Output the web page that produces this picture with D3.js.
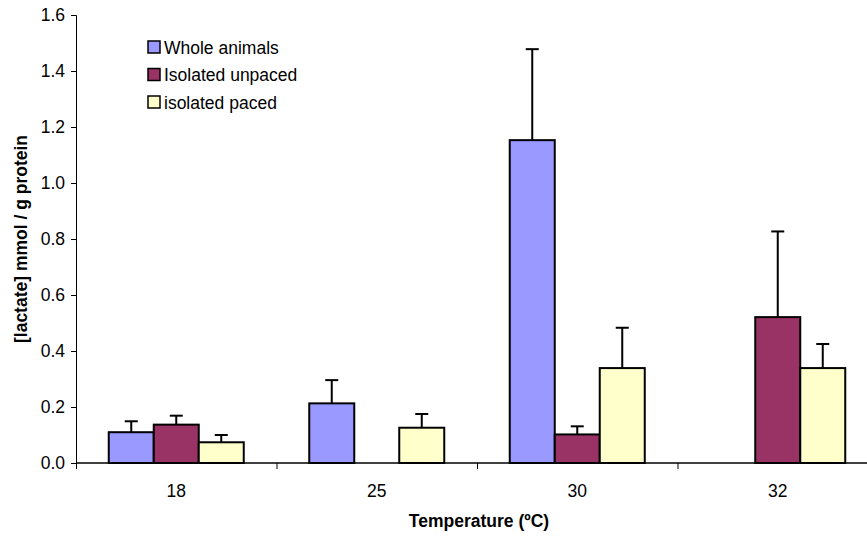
<!DOCTYPE html>
<html>
<head>
<meta charset="utf-8">
<script src="https://cdn.jsdelivr.net/npm/d3@7"></script>
<style>
  body { margin: 0; background: #fff; }
  svg { display: block; font-family: "Liberation Sans", Arial, sans-serif; }
</style>
</head>
<body>
<svg id="chart" width="867" height="537"></svg>
<script>
/************** Data **************/
const temperatures = ["18", "25", "30", "32"];
const seriesNames = ["Whole animals", "Isolated unpaced", "isolated paced"];
const seriesColors = ["#9999FF", "#993366", "#FFFFCC"];
// mean values per temperature
const wholeAnimals    = [0.110, 0.213, 1.153, 0];
const isolatedUnpaced = [0.137, 0,     0.102, 0.521];
const isolatedPaced   = [0.074, 0.126, 0.339, 0.339];
// error bar tops (mean + SE)
const wholeErr    = [0.149, 0.296, 1.478, null];
const unpacedErr  = [0.169, null,  0.131, 0.827];
const pacedErr    = [0.100, 0.175, 0.483, 0.425];
const yTicks = [0, 0.2, 0.4, 0.6, 0.8, 1.0, 1.2, 1.4, 1.6];

const seriesValues = [wholeAnimals, isolatedUnpaced, isolatedPaced];
const seriesErr = [wholeErr, unpacedErr, pacedErr];

const rows = [];
temperatures.forEach((t, i) => {
  seriesNames.forEach((s, j) => {
    rows.push({ temp: t, series: s, idx: j, value: seriesValues[j][i], err: seriesErr[j][i] });
  });
});

/************** Layout **************/
const plotLeft = 76, plotRight = 878, plotTop = 15, plotBottom = 463;
const fontSize = 17.5;
const svg = d3.select("#chart");

const x = d3.scaleBand().domain(temperatures).range([plotLeft, plotRight]);
const xInner = d3.scaleBand().domain(seriesNames)
  .range([x.bandwidth() / 2 - 67.5, x.bandwidth() / 2 + 67.5]);
const y = d3.scaleLinear().domain([0, 1.6]).range([plotBottom, plotTop]);

/************** Axes **************/
const yAxis = svg.append("g")
  .attr("transform", `translate(${plotLeft},0)`)
  .call(d3.axisLeft(y).tickValues(yTicks).tickFormat(d3.format(".1f")).tickSizeOuter(0).tickSize(5).tickPadding(6));
yAxis.select(".domain").attr("stroke", "#000").attr("stroke-width", 1);
yAxis.selectAll("text").attr("font-size", fontSize).attr("fill", "#000").attr("font-family", null);

// bars
const bars = svg.append("g");
bars.selectAll("rect")
  .data(rows.filter(d => d.value > 0))
  .join("rect")
    .attr("x", d => x(d.temp) + xInner(d.series))
    .attr("width", xInner.bandwidth())
    .attr("y", d => y(d.value))
    .attr("height", d => y(0) - y(d.value))
    .attr("fill", d => seriesColors[d.idx])
    .attr("stroke", "#000")
    .attr("stroke-width", 2);

// error bars
const errs = svg.append("g").attr("stroke", "#000").attr("stroke-width", 2);
rows.filter(d => d.err !== null).forEach(d => {
  const cx = x(d.temp) + xInner(d.series) + xInner.bandwidth() / 2;
  errs.append("line").attr("x1", cx).attr("x2", cx).attr("y1", y(d.value)).attr("y2", y(d.err));
  errs.append("line").attr("x1", cx - 6.5).attr("x2", cx + 6.5).attr("y1", y(d.err)).attr("y2", y(d.err));
});

// x axis with ticks at category boundaries
const xAxis = svg.append("g").attr("transform", `translate(0,${plotBottom})`);
xAxis.append("line").attr("x1", plotLeft).attr("x2", plotRight).attr("stroke", "#000").attr("stroke-width", 1.5);
xAxis.selectAll("line.tick")
  .data(temperatures)
  .join("line")
    .attr("class", "tick")
    .attr("x1", d => x(d) + 0.5).attr("x2", d => x(d) + 0.5)
    .attr("y1", 0).attr("y2", 6)
    .attr("stroke", "#000");
xAxis.selectAll("text")
  .data(temperatures)
  .join("text")
    .attr("x", d => x(d) + x.bandwidth() / 2)
    .attr("y", 34)
    .attr("text-anchor", "middle")
    .attr("font-size", fontSize)
    .text(d => d);

/************** Titles **************/
svg.append("text")
  .attr("x", 479).attr("y", 527)
  .attr("text-anchor", "middle")
  .attr("font-size", fontSize).attr("font-weight", "bold")
  .text("Temperature (ºC)");

svg.append("text")
  .attr("transform", `translate(27,${(plotTop + plotBottom) / 2}) rotate(-90)`)
  .attr("text-anchor", "middle")
  .attr("font-size", fontSize).attr("font-weight", "bold")
  .text("[lactate] mmol / g protein");

/************** Legend **************/
const legend = svg.append("g").attr("transform", "translate(148,41)");
const items = legend.selectAll("g")
  .data(seriesNames)
  .join("g")
    .attr("transform", (d, i) => `translate(0,${i * 27.5})`);
items.append("rect")
  .attr("width", 12).attr("height", 12)
  .attr("fill", (d, i) => seriesColors[i])
  .attr("stroke", "#000").attr("stroke-width", 1.5);
items.append("text")
  .attr("x", 16).attr("y", 12.5)
  .attr("font-size", fontSize)
  .text(d => d);
</script>
</body>
</html>
